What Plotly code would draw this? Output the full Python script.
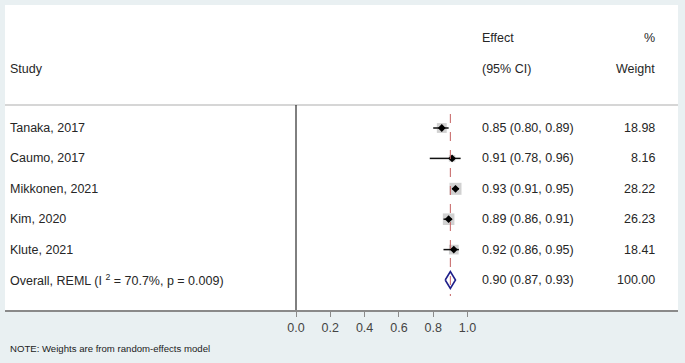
import plotly.graph_objects as go

studies = ["Tanaka, 2017", "Caumo, 2017", "Mikkonen, 2021", "Kim, 2020", "Klute, 2021"]
est = [0.85, 0.91, 0.93, 0.89, 0.92]
lo = [0.80, 0.78, 0.91, 0.86, 0.86]
hi = [0.89, 0.96, 0.95, 0.91, 0.95]
weights = [18.98, 8.16, 28.22, 26.23, 18.41]

overall_label = "Overall, REML (I <sup>2</sup> = 70.7%, p = 0.009)"
overall_est, overall_lo, overall_hi = 0.90, 0.87, 0.93
overall_weight = 100.00

tick_vals = [0.0, 0.2, 0.4, 0.6, 0.8, 1.0]
note = "NOTE: Weights are from random-effects model"

FONT = "Liberation Sans, Arial, sans-serif"
TXT = "#262626"

rows = list(range(len(studies)))
overall_row = len(studies)

fig = go.Figure()

# weight squares
max_w = max(weights)
sizes = [12 * (w / max_w) ** 0.5 for w in weights]
fig.add_trace(go.Scatter(
    x=est, y=rows, mode="markers",
    marker=dict(symbol="square", size=sizes, color="#bdbdbd", line=dict(width=0)),
    hoverinfo="skip", showlegend=False))

# CI lines + point estimates
fig.add_trace(go.Scatter(
    x=est, y=rows, mode="markers",
    marker=dict(symbol="diamond", size=6, color="#000000"),
    error_x=dict(type="data", symmetric=False,
                 array=[h - e for h, e in zip(hi, est)],
                 arrayminus=[e - l for e, l in zip(est, lo)],
                 thickness=1.5, width=0, color="#111111"),
    hoverinfo="skip", showlegend=False))

# overall diamond
half_h = 0.28
fig.add_trace(go.Scatter(
    x=[overall_lo, overall_est, overall_hi, overall_est, overall_lo],
    y=[overall_row, overall_row - half_h, overall_row, overall_row + half_h, overall_row],
    mode="lines", fill="toself", fillcolor="white",
    line=dict(color="#1f1f8a", width=1.6),
    hoverinfo="skip", showlegend=False))

# axis geometry (pixels)
W, H = 685, 363
L, R, T, B = 5, 7, 5, 53
plot_w = W - L - R
plot_h = H - T - B
x0_px = 296 - L
scale = 171.5
row0_px = 128 - T
row_h = 30.4

x_range = [-x0_px / scale, (plot_w - x0_px) / scale]
y_range = [(plot_h - row0_px) / row_h, -row0_px / row_h]

def px_to_row(py):
    return (py - T - row0_px) / row_h

def px_to_paper_x(px):
    return (px - L) / plot_w

def px_to_paper_y(py):
    return (T + plot_h - py) / plot_h

# shapes
sep_y = px_to_row(105)
fig.add_shape(type="line", xref="paper", yref="y", x0=0, x1=1, y0=sep_y, y1=sep_y,
              line=dict(color="#c8c8c8", width=1.5))
fig.add_shape(type="line", xref="x", yref="y", x0=0, x1=0, y0=sep_y, y1=y_range[0],
              line=dict(color="#000000", width=1))
fig.add_shape(type="line", xref="x", yref="y", x0=overall_est, x1=overall_est,
              y0=px_to_row(114), y1=px_to_row(296),
              line=dict(color="#c46060", width=1, dash="dash"))

ann = []
def add_text(text, px, py, anchor, size=12.5, color=TXT):
    ann.append(dict(text=text, xref="paper", yref="paper",
                    x=px_to_paper_x(px), y=px_to_paper_y(py),
                    xanchor=anchor, yanchor="middle", showarrow=False,
                    font=dict(family=FONT, size=size, color=color)))

def add_row_text(text, px, row, anchor):
    ann.append(dict(text=text, xref="paper", yref="y",
                    x=px_to_paper_x(px), y=row,
                    xanchor=anchor, yanchor="middle", showarrow=False,
                    font=dict(family=FONT, size=12.5, color=TXT)))

add_text("Effect", 480, 38, "left")
add_text("%", 657, 38, "right")
add_text("Study", 8, 69, "left")
add_text("(95% CI)", 480, 69, "left")
add_text("Weight", 657, 69, "right")

for i, s in enumerate(studies):
    add_row_text(s, 8, i, "left")
    add_row_text(f"{est[i]:.2f} ({lo[i]:.2f}, {hi[i]:.2f})", 480, i, "left")
    add_row_text(f"{weights[i]:.2f}", 657, i, "right")

add_row_text(overall_label, 8, overall_row, "left")
add_row_text(f"{overall_est:.2f} ({overall_lo:.2f}, {overall_hi:.2f})", 480, overall_row, "left")
add_row_text(f"{overall_weight:.2f}", 657, overall_row, "right")

add_text(note, 8, 348, "left", size=9.6, color="#222222")

fig.update_layout(
    width=W, height=H,
    margin=dict(l=L, r=R, t=T, b=B),
    paper_bgcolor="#e9f0f2",
    plot_bgcolor="#ffffff",
    annotations=ann,
    xaxis=dict(range=x_range, tickvals=tick_vals, tickformat=".1f",
               showgrid=False, zeroline=False, showline=True,
               linecolor="#8a8a8a", linewidth=2,
               ticks="outside", ticklen=5, tickcolor="#8a8a8a", tickwidth=1,
               tickfont=dict(family=FONT, size=12.5, color="#444444"),
               fixedrange=True),
    yaxis=dict(range=y_range, showgrid=False, zeroline=False, showline=False,
               showticklabels=False, ticks="", fixedrange=True),
    font=dict(family=FONT),
)

fig.write_html("out.html", config={"displayModeBar": False},
               post_script="document.body.style.margin='0';document.body.style.padding='0';")
